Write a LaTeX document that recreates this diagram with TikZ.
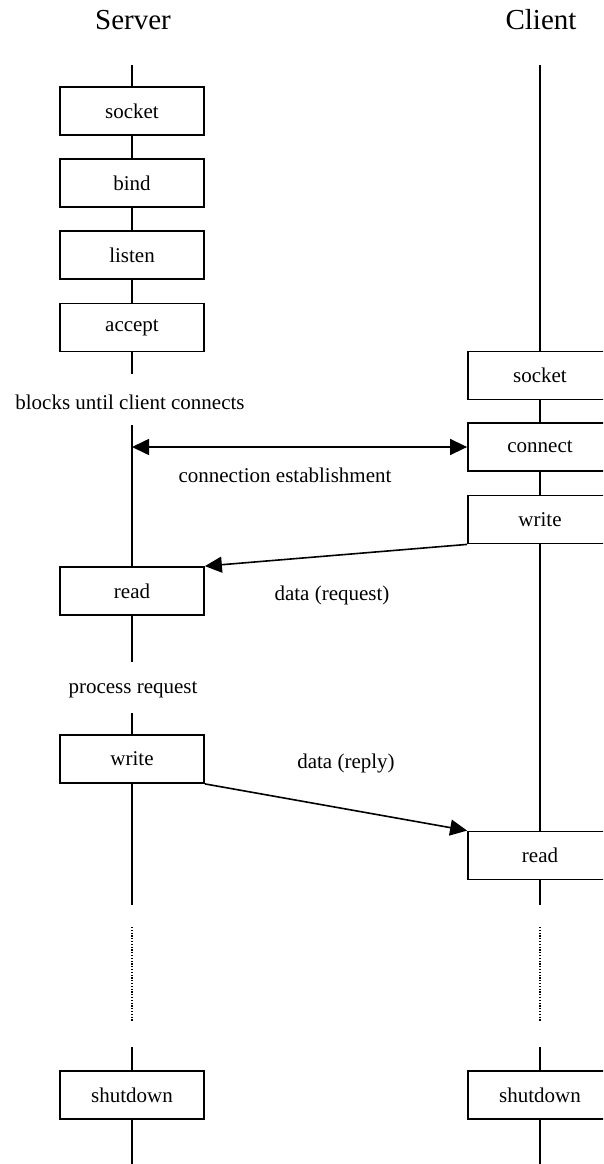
\documentclass[tikz,border=0pt]{standalone}
\usepackage{fontspec}
\setmainfont{Liberation Serif}
\usetikzlibrary{arrows.meta}
\begin{document}
\begin{tikzpicture}[x=1pt,y=-1pt,
  box/.style={draw, line width=1.8pt, minimum width=144pt, minimum height=48pt, inner sep=0pt, font=\fontsize{21}{24}\selectfont},
  lbl/.style={font=\fontsize{21}{24}\selectfont, inner sep=0pt},
  hdr/.style={font=\fontsize{29}{32}\selectfont, inner sep=0pt},
  life/.style={line width=1.6pt},
  dots/.style={line width=1.3pt, dash pattern=on 1.2pt off 1.6pt},
  msg/.style={line width=1.6pt, -{Triangle[length=17pt,width=16pt]}},
  both/.style={line width=1.6pt, {Triangle[length=17pt,width=16pt]}-{Triangle[length=17pt,width=16pt]}},
]
\useasboundingbox (0,0) rectangle (603,1164);
\clip (0,0) rectangle (603,1164);

% headers
\node[hdr] (hs) at (133,20) {Server};
\node[hdr] (hc) at (541,20) {Client};

% server boxes
\node[box] (ssocket) at (132,111) {socket};
\node[box] (sbind)   at (132,183) {bind};
\node[box] (slisten) at (132,255) {listen};
\node[box] (saccept) at (132,327.5) {accept};
\node[box] (sread)   at (132,591) {read};
\node[box] (swrite)  at (132,759) {write};
\node[box] (sshut)   at (132,1095) {shutdown};

% client boxes
\node[box] (csocket)  at (540,375.5) {socket};
\node[box] (cconnect) at (540,447) {connect};
\node[box] (cwrite)   at (540,519.5) {write};
\node[box] (cread)    at (540,855.5) {read};
\node[box] (cshut)    at (540,1095) {shutdown};

% labels
\node[lbl] (block) at (130,402) {blocks until client connects};
\node[lbl] (proc)  at (133,690) {process request};
\node[lbl] (lconn) at (285,475) {connection establishment};
\node[lbl] (lreq)  at (332,595) {data (request)};
\node[lbl] (lrep)  at (346,763) {data (reply)};

% coordinates on lifelines
\coordinate (stop) at (132,65);
\coordinate (ctop) at (540,65);
\coordinate (sb1) at (132,374);
\coordinate (sb2) at (132,425);
\coordinate (sconn) at (132,447);
\coordinate (sp1) at (132,662);
\coordinate (sp2) at (132,713);
\coordinate (se1) at (132,905);
\coordinate (sd1) at (132,927);
\coordinate (sd2) at (132,1021);
\coordinate (sr1) at (132,1047);
\coordinate (sbot) at (132,1164);
\coordinate (ce1) at (540,905);
\coordinate (cd1) at (540,927);
\coordinate (cd2) at (540,1021);
\coordinate (cr1) at (540,1047);
\coordinate (cbot) at (540,1164);

% server lifeline
\draw[life] (stop) -- (ssocket.north);
\draw[life] (ssocket.south) -- (sbind.north);
\draw[life] (sbind.south) -- (slisten.north);
\draw[life] (slisten.south) -- (saccept.north);
\draw[life] (saccept.south) -- (sb1);
\draw[life] (sb2) -- (sread.north);
\draw[life] (sread.south) -- (sp1);
\draw[life] (sp2) -- (swrite.north);
\draw[life] (swrite.south) -- (se1);
\draw[dots] (sd1) -- (sd2);
\draw[life] (sr1) -- (sshut.north);
\draw[life] (sshut.south) -- (sbot);

% client lifeline
\draw[life] (ctop) -- (csocket.north);
\draw[life] (csocket.south) -- (cconnect.north);
\draw[life] (cconnect.south) -- (cwrite.north);
\draw[life] (cwrite.south) -- (cread.north);
\draw[life] (cread.south) -- (ce1);
\draw[dots] (cd1) -- (cd2);
\draw[life] (cr1) -- (cshut.north);
\draw[life] (cshut.south) -- (cbot);

% messages
\draw[both] (sconn) -- (cconnect.west);
\draw[msg] (cwrite.south west) -- (sread.north east);
\draw[msg] (swrite.south east) -- (cread.north west);
\end{tikzpicture}
\end{document}
